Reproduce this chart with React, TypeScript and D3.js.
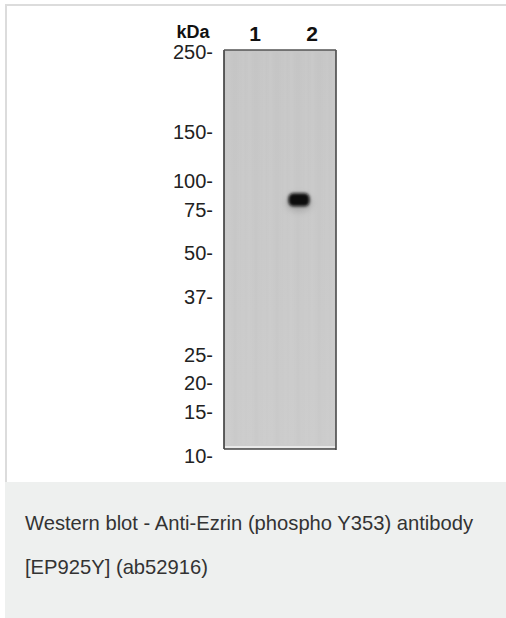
import React from 'react';
import * as d3 from 'd3';

const markerLabels = ['250', '150', '100', '75', '50', '37', '25', '20', '15', '10'];
const markerRf = [0, 0.198, 0.319, 0.391, 0.497, 0.606, 0.75, 0.82, 0.89, 1.0];
const laneLabels = ['1', '2'];
const bandLanes = ['2'];
const bandRf = [0.366];
const captionLines = [
  'Western blot - Anti-Ezrin (phospho Y353) antibody',
  '[EP925Y] (ab52916)',
];

const W = 506;
const H = 618;

export default function App() {
  const y = d3.scaleLinear().domain([0, 1]).range([52, 456]);
  const x = d3.scaleBand<string>().domain(laneLabels).range([224, 336]).padding(0);
  const blotLeft = 224;
  const blotRight = 336;
  const blotTop = y(0) - 2;
  const blotBottom = y(1) - 7;
  const font = "'Liberation Sans', Arial, sans-serif";
  const streaks = d3.range(blotLeft + 3, blotRight - 2, 7);

  return (
    <svg width={W} height={H} style={{ position: 'absolute', left: 0, top: 0 }} fontFamily={font}>
      <defs>
        <filter id="blur" x="-50%" y="-50%" width="200%" height="200%">
          <feGaussianBlur stdDeviation="1.6" />
        </filter>
        <filter id="blur2" x="-50%" y="-50%" width="200%" height="200%">
          <feGaussianBlur stdDeviation="3" />
        </filter>
        <filter id="soft">
          <feGaussianBlur stdDeviation="1.2" />
        </filter>
        <linearGradient id="blotGrad" x1="0" x2="0" y1="0" y2="1">
          <stop offset="0" stopColor="#c6c6c6" />
          <stop offset="0.5" stopColor="#c9c9c9" />
          <stop offset="1" stopColor="#cccccc" />
        </linearGradient>
      </defs>
      <rect x={0} y={0} width={W} height={H} fill="#fff" />
      <rect x={6} y={5} width={W + 20} height={H + 20} fill="#fff" stroke="#dcdcdc" strokeWidth={2} />
      <rect x={5} y={482} width={W} height={H - 482} fill="#eef0ef" />

      {/* blot */}
      <rect x={blotLeft} y={blotTop} width={blotRight - blotLeft} height={blotBottom - blotTop} fill="url(#blotGrad)" />
      <g filter="url(#soft)">
        {streaks.map((sx, i) => (
          <rect key={i} x={sx} y={blotTop + 2} width={2.5} height={blotBottom - blotTop - 6}
            fill={i % 3 === 0 ? '#d0d0d0' : i % 3 === 1 ? '#c3c3c3' : '#cdcdcd'} opacity={0.35} />
        ))}
      </g>
      <rect x={blotLeft + 1} y={blotBottom - 3} width={blotRight - blotLeft - 2} height={2.5} fill="#ececec" opacity={0.9} />
      {bandLanes.map((lane, i) => {
        const cx = (x(lane) ?? 0) + x.bandwidth() / 2 - 9;
        const cy = y(bandRf[i]);
        return (
          <g key={lane}>
            <ellipse cx={cx} cy={cy + 3} rx={13} ry={9} fill="#777" opacity={0.35} filter="url(#blur2)" />
            <rect x={cx - 10.5} y={cy - 6.5} width={21} height={13} rx={5} fill="#0c0c0c" filter="url(#blur)" />
          </g>
        );
      })}
      <line x1={blotLeft} x2={blotLeft} y1={blotTop} y2={blotBottom} stroke="#3a3a3a" strokeWidth={1.6} />
      <line x1={blotRight} x2={blotRight} y1={blotTop} y2={blotBottom + 1} stroke="#4a4a4a" strokeWidth={1.6} />
      <line x1={blotLeft} x2={blotRight} y1={blotTop} y2={blotTop} stroke="#555" strokeWidth={1.6} />
      <line x1={blotLeft} x2={blotRight} y1={blotBottom} y2={blotBottom} stroke="#444" strokeWidth={1.4} />

      {/* marker labels */}
      {markerLabels.map((lab, i) => (
        <text key={lab} x={213} y={y(markerRf[i])} dy="0.36em" textAnchor="end" fontSize={20} fill="#222">
          {lab}-
        </text>
      ))}
      <text x={193} y={38} textAnchor="middle" fontSize={18} fontWeight="bold" fill="#111">kDa</text>
      {laneLabels.map((lab) => (
        <text key={lab} x={(x(lab) ?? 0) + x.bandwidth() / 2 + (lab === '1' ? 3 : 4)} y={41} textAnchor="middle"
          fontSize={21} fontWeight="bold" fill="#111">
          {lab}
        </text>
      ))}

      {/* caption */}
      {captionLines.map((line, i) => (
        <text key={i} x={25} y={523 + i * 44} dy="0.35em" fontSize={20.2} fill="#333">
          {line}
        </text>
      ))}
    </svg>
  );
}
